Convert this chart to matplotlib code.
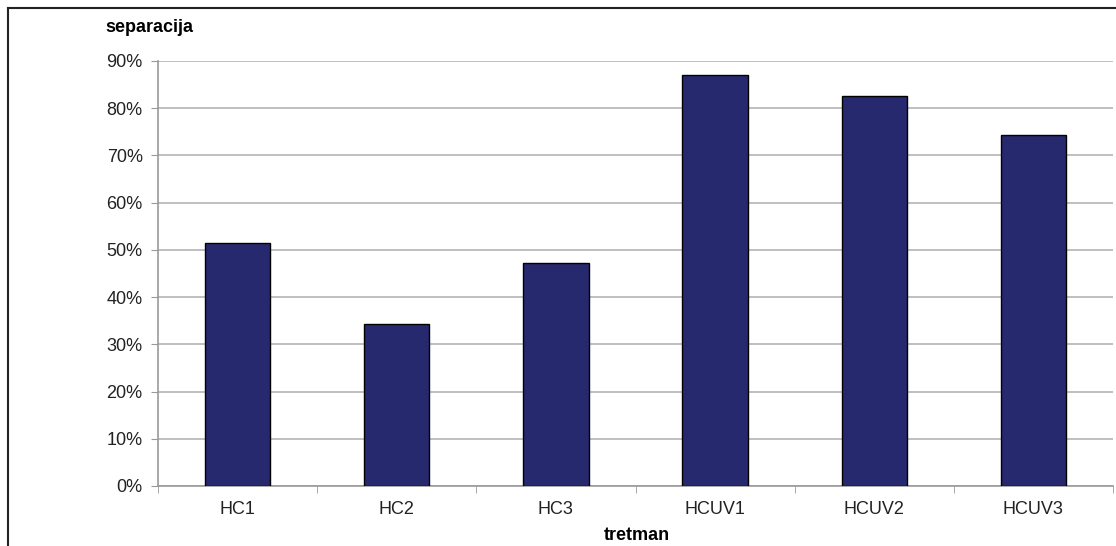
import matplotlib.pyplot as plt
import matplotlib.ticker as mticker
import numpy as np

plt.rcParams['font.family'] = ['Liberation Sans', 'DejaVu Sans']

tretman = ['HC1', 'HC2', 'HC3', 'HCUV1', 'HCUV2', 'HCUV3']
separacija = [51.4, 34.4, 47.2, 87.1, 82.5, 74.3]
y_ticks = [0, 10, 20, 30, 40, 50, 60, 70, 80, 90]

fig = plt.figure(figsize=(11.16, 5.46), dpi=100)
ax = fig.add_axes([0.1416, 0.1099, 0.9973 - 0.1416, 0.8883 - 0.1099])

x = np.arange(len(tretman))
ax.bar(x, separacija, width=0.41, color='#27296f', edgecolor='black', linewidth=1, zorder=3)

ax.set_xlim(-0.5, len(tretman) - 0.5)
ax.set_ylim(0, 90)
ax.set_yticks(y_ticks)
ax.yaxis.set_major_formatter(mticker.FuncFormatter(lambda v, p: f'{int(v)}%'))
ax.grid(axis='y', color='#b4b4b4', linewidth=1.2, zorder=0)

ax.set_xticks(x)
ax.set_xticklabels(tretman)
ax.set_xticks(np.arange(-0.5, len(tretman)), minor=True)
ax.tick_params(axis='x', which='major', length=0, pad=11, labelsize=13, labelcolor='#222222')
ax.tick_params(axis='x', which='minor', length=5, color='#999999', direction='out')
ax.tick_params(axis='y', length=5, color='#999999', pad=6, labelsize=13, labelcolor='#222222')

for side in ['top', 'right']:
    ax.spines[side].set_visible(False)
for side in ['left', 'bottom']:
    ax.spines[side].set_color('#999999')
    ax.spines[side].set_linewidth(1.2)

fig.text(105 / 1116, 1 - 28 / 546, 'separacija', fontsize=13, fontweight='bold', va='center', ha='left')
fig.text(637 / 1116, 1 - 535 / 546, 'tretman', fontsize=13, fontweight='bold', va='center', ha='center')

# frame round the figure (only top and left edges are visible in the picture)
fig.add_artist(plt.Line2D([8 / 1116, 8 / 1116], [0, 1 - 8 / 546], transform=fig.transFigure, color='#222222', linewidth=1.5))
fig.add_artist(plt.Line2D([8 / 1116, 1], [1 - 8 / 546, 1 - 8 / 546], transform=fig.transFigure, color='#222222', linewidth=1.5))

plt.savefig('out.png', dpi=100)
